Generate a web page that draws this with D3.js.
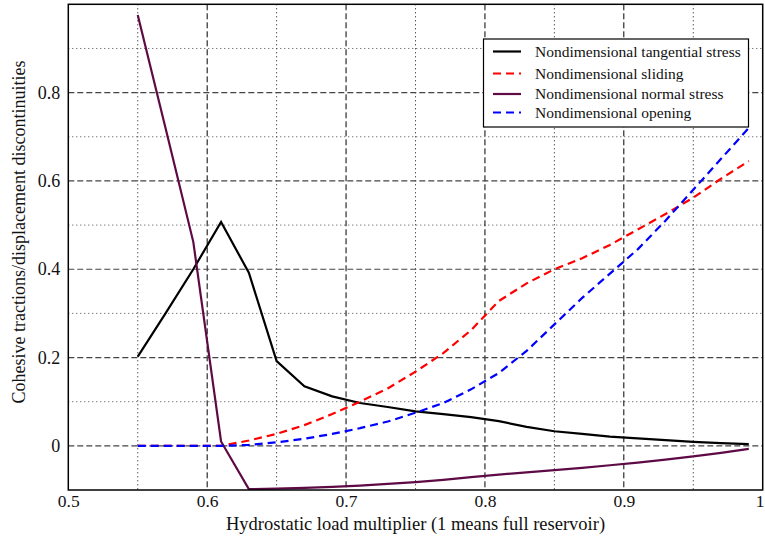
<!DOCTYPE html>
<html><head><meta charset="utf-8">
<script src="https://cdn.jsdelivr.net/npm/d3@7"></script>
<style>body{margin:0;background:#fff}text{font-family:"Liberation Serif","Times New Roman",serif}</style>
</head><body><svg id="c" width="765" height="539"></svg>
<script>
const xs = [0.55,0.57,0.59,0.61,0.63,0.65,0.67,0.69,0.71,0.73,0.75,0.77,0.79,0.81,0.83,0.85,0.87,0.89,0.91,0.93,0.95,0.97,0.99];
const tangential = [0.202,0.30,0.40,0.507,0.392,0.192,0.135,0.112,0.097,0.088,0.078,0.072,0.065,0.056,0.043,0.033,0.027,0.021,0.017,0.013,0.009,0.006,0.004];
const sliding = [0,0,0,0,0.012,0.027,0.047,0.072,0.10,0.13,0.168,0.21,0.262,0.328,0.368,0.40,0.425,0.455,0.49,0.525,0.562,0.605,0.645];
const normal = [0.976,0.72,0.462,0.01,-0.098,-0.097,-0.095,-0.093,-0.09,-0.086,-0.082,-0.077,-0.071,-0.065,-0.06,-0.055,-0.05,-0.044,-0.038,-0.031,-0.024,-0.016,-0.007];
const opening = [0,0,0,0,0.002,0.008,0.016,0.027,0.04,0.055,0.075,0.097,0.128,0.165,0.215,0.275,0.335,0.39,0.445,0.51,0.58,0.65,0.72];
const xTicks = [0.5,0.6,0.7,0.8,0.9,1];
const xMinor = [0.55,0.65,0.75,0.85,0.95];
const yTicks = [0,0.2,0.4,0.6,0.8];
const yMinor = [-0.1,0.1,0.3,0.5,0.7,0.9];
const seriesNames = ["Nondimensional tangential stress","Nondimensional sliding","Nondimensional normal stress","Nondimensional opening"];
const seriesData = [tangential, sliding, normal, opening];
const seriesColors = ["#000000","#ff0000","#5e0a45","#0000ff"];
const seriesDash = [null,"8,5",null,"8,5"];

const L=68.3, T=4.3, R=762.7, B=490;
const svg = d3.select("#c");
const x = d3.scaleLinear().domain([0.5,1]).range([L,R]);
const y = d3.scaleLinear().domain([-0.1,1]).range([B,T]);

const g = svg.append("g");
g.selectAll(".vx").data(xMinor).join("line").attr("x1",d=>x(d)).attr("x2",d=>x(d)).attr("y1",T).attr("y2",B)
  .attr("stroke","#111").attr("stroke-width",1).attr("stroke-dasharray","1,3");
g.selectAll(".hy").data(yMinor.filter(d=>d>-0.1)).join("line").attr("x1",L).attr("x2",R).attr("y1",d=>y(d)).attr("y2",d=>y(d))
  .attr("stroke","#444").attr("stroke-width",1).attr("stroke-dasharray","1,3");
g.selectAll(".mx").data(xTicks.filter(d=>d>0.5&&d<1)).join("line").attr("x1",d=>x(d)).attr("x2",d=>x(d)).attr("y1",T).attr("y2",B)
  .attr("stroke","#000").attr("stroke-width",1).attr("stroke-dasharray","6,3");
g.selectAll(".my").data(yTicks).join("line").attr("x1",L).attr("x2",R).attr("y1",d=>y(d)).attr("y2",d=>y(d))
  .attr("stroke","#444").attr("stroke-width",1.2).attr("stroke-dasharray","6,3");

const xa = svg.append("g").attr("transform",`translate(0,${B})`).call(d3.axisBottom(x).tickValues(xTicks).tickFormat(d3.format("")).tickSize(0).tickPadding(5));
xa.select(".domain").remove();
xa.selectAll("text").attr("font-size",17.5).attr("fill","#111").attr("font-family","Liberation Serif")
  .attr("dx",d=>d===1?-3:0);
const ya = svg.append("g").attr("transform",`translate(${L},0)`).call(d3.axisLeft(y).tickValues(yTicks).tickFormat(d3.format("")).tickSize(0).tickPadding(8));
ya.select(".domain").remove();
ya.selectAll("text").attr("font-size",18).attr("fill","#111").attr("font-family","Liberation Serif");

svg.append("clipPath").attr("id","cp").append("rect").attr("x",L).attr("y",T).attr("width",R-L).attr("height",B-T);
const line = d3.line().x((d,i)=>x(xs[i])).y(d=>y(d));
seriesData.forEach((s,k)=>{
  svg.append("path").datum(s).attr("d",line).attr("fill","none").attr("stroke",seriesColors[k])
    .attr("stroke-width",2.2).attr("stroke-dasharray",seriesDash[k]).attr("clip-path","url(#cp)");
});

svg.append("rect").attr("x",L).attr("y",T).attr("width",R-L).attr("height",B-T).attr("fill","none").attr("stroke","#000").attr("stroke-width",1.5);

const lg = svg.append("g");
lg.append("rect").attr("x",483.5).attr("y",39).attr("width",265).attr("height",88).attr("fill","#fff").attr("stroke","#000").attr("stroke-width",1.2);
const rows=[51.5,73.5,94,112.5];
seriesNames.forEach((n,k)=>{
  lg.append("line").attr("x1",493).attr("x2",521).attr("y1",rows[k]).attr("y2",rows[k]).attr("stroke",seriesColors[k]).attr("stroke-width",2.2).attr("stroke-dasharray",seriesDash[k]);
  lg.append("text").attr("x",535).attr("y",rows[k]).attr("dy","0.35em").attr("font-size",15.5).attr("fill","#111").text(n);
});

svg.append("text").attr("x",(L+R)/2).attr("y",530).attr("text-anchor","middle").attr("font-size",18.5).attr("fill","#111").text("Hydrostatic load multiplier (1 means full reservoir)");
svg.append("text").attr("transform","translate(25,232) rotate(-90)").attr("text-anchor","middle").attr("font-size",18).attr("fill","#111").text("Cohesive tractions/displacement discontinuities");
</script></body></html>
